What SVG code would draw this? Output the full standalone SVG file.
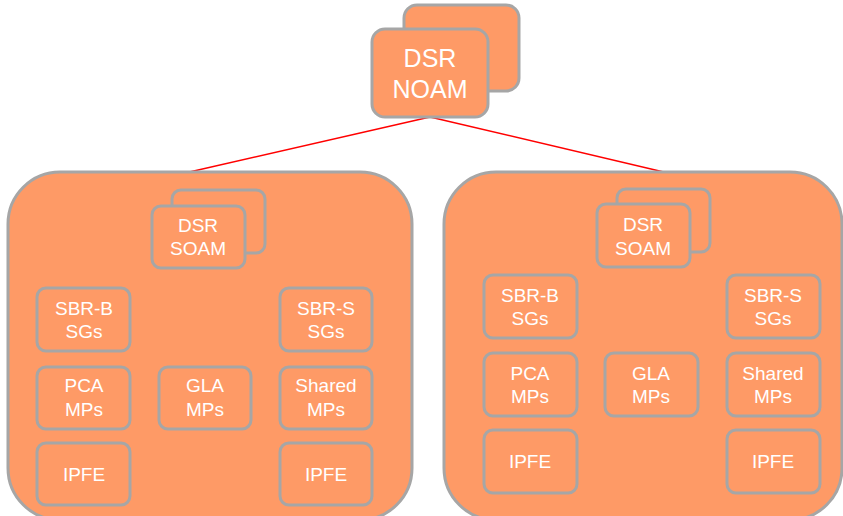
<svg xmlns="http://www.w3.org/2000/svg" width="843" height="516" viewBox="0 0 843 516">
<style>
.box{fill:#FE9A66;stroke:#A6A6A6;stroke-width:3}
.big{fill:#FE9A66;stroke:#A6A6A6;stroke-width:3}
.t{font-family:"Liberation Sans",Arial,sans-serif;font-size:19px;fill:#FFFFFF;text-anchor:middle}
.tl{font-family:"Liberation Sans",Arial,sans-serif;font-size:25px;fill:#FFFFFF;text-anchor:middle}
.c{stroke:#FF0000;stroke-width:1.5;fill:none}
</style>
<rect width="843" height="516" fill="#FFFFFF"/>
<g id="connectors">
<line class="c" x1="430" y1="117" x2="185" y2="173"/>
<line class="c" x1="430" y1="117" x2="668" y2="173"/>
</g>
<g id="noam">
<rect class="box" x="404" y="5" width="115" height="86" rx="13"/>
<rect class="box" x="372" y="29" width="116" height="88" rx="13"/>
<text class="tl" x="430" y="67">DSR</text>
<text class="tl" x="430" y="98">NOAM</text>
</g>
<g id="site1">
<rect class="big" x="8" y="172" width="404" height="348" rx="52"/>
</g>
<g id="site2">
<rect class="big" x="444" y="172" width="398" height="348" rx="52"/>
</g>
<g id="soam1">
<rect class="box" x="172" y="190" width="93" height="63" rx="9"/>
<rect class="box" x="152" y="206" width="93" height="62" rx="9"/>
<text class="t" x="198" y="232">DSR</text>
<text class="t" x="198" y="255">SOAM</text>
</g>
<g id="sbrb1">
<rect class="box" x="37" y="288" width="93" height="63" rx="9"/>
<text class="t" x="84" y="315">SBR-B</text>
<text class="t" x="84" y="338">SGs</text>
</g>
<g id="sbrs1">
<rect class="box" x="280" y="288" width="92" height="63" rx="9"/>
<text class="t" x="326" y="315">SBR-S</text>
<text class="t" x="326" y="338">SGs</text>
</g>
<g id="pca1">
<rect class="box" x="37" y="367" width="93" height="62" rx="9"/>
<text class="t" x="84" y="392">PCA</text>
<text class="t" x="84" y="416">MPs</text>
</g>
<g id="gla1">
<rect class="box" x="159" y="367" width="92" height="62" rx="9"/>
<text class="t" x="205" y="392">GLA</text>
<text class="t" x="205" y="416">MPs</text>
</g>
<g id="shared1">
<rect class="box" x="280" y="367" width="92" height="62" rx="9"/>
<text class="t" x="326" y="392">Shared</text>
<text class="t" x="326" y="416">MPs</text>
</g>
<g id="ipfe1a">
<rect class="box" x="37" y="443" width="93" height="62" rx="9"/>
<text class="t" x="84" y="481">IPFE</text>
</g>
<g id="ipfe1b">
<rect class="box" x="280" y="443" width="92" height="62" rx="9"/>
<text class="t" x="326" y="481">IPFE</text>
</g>
<g id="soam2">
<rect class="box" x="617" y="189" width="93" height="63" rx="9"/>
<rect class="box" x="597" y="204" width="93" height="63" rx="9"/>
<text class="t" x="643" y="231">DSR</text>
<text class="t" x="643" y="255">SOAM</text>
</g>
<g id="sbrb2">
<rect class="box" x="484" y="275" width="93" height="63" rx="9"/>
<text class="t" x="530" y="302">SBR-B</text>
<text class="t" x="530" y="325">SGs</text>
</g>
<g id="sbrs2">
<rect class="box" x="727" y="275" width="93" height="63" rx="9"/>
<text class="t" x="773" y="302">SBR-S</text>
<text class="t" x="773" y="325">SGs</text>
</g>
<g id="pca2">
<rect class="box" x="484" y="353" width="93" height="63" rx="9"/>
<text class="t" x="530" y="380">PCA</text>
<text class="t" x="530" y="403">MPs</text>
</g>
<g id="gla2">
<rect class="box" x="605" y="353" width="93" height="63" rx="9"/>
<text class="t" x="651" y="380">GLA</text>
<text class="t" x="651" y="403">MPs</text>
</g>
<g id="shared2">
<rect class="box" x="727" y="353" width="93" height="63" rx="9"/>
<text class="t" x="773" y="380">Shared</text>
<text class="t" x="773" y="403">MPs</text>
</g>
<g id="ipfe2a">
<rect class="box" x="484" y="430" width="93" height="63" rx="9"/>
<text class="t" x="530" y="468">IPFE</text>
</g>
<g id="ipfe2b">
<rect class="box" x="727" y="430" width="93" height="63" rx="9"/>
<text class="t" x="773" y="468">IPFE</text>
</g>
</svg>
